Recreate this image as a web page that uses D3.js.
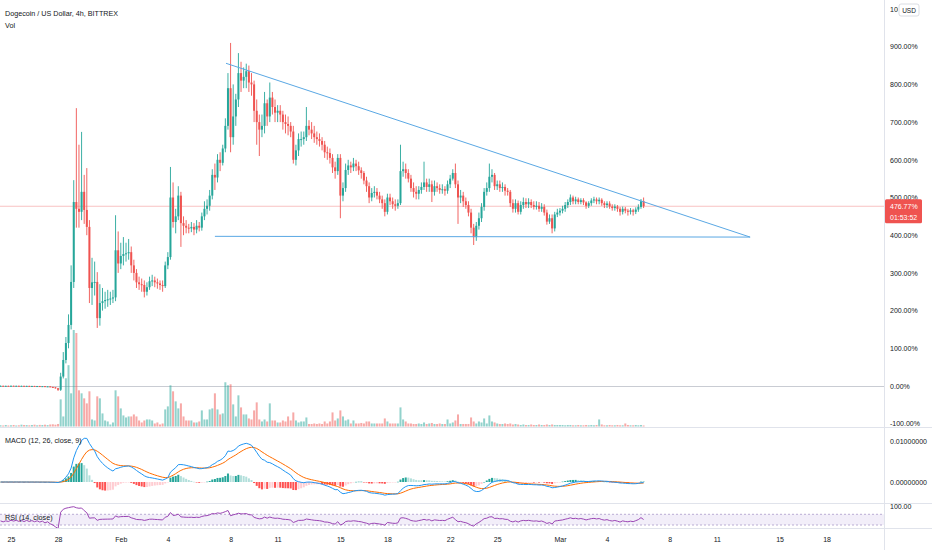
<!DOCTYPE html>
<html>
<head>
<meta charset="utf-8">
<script src="https://cdn.jsdelivr.net/npm/d3@7"></script>
<style>
  body { margin: 0; background: #ffffff; }
  svg text { font-family: "Liberation Sans", Arial, sans-serif; }
</style>
</head>
<body>
<div id="chart"></div>
<script>
// 4h candles, values in % change from the first bar (Jan 24 08:00 UTC)
var startTime = Date.UTC(2021, 0, 24, 8);
var barHours = 4;
var basePrice = 0.0085; // USD price at 0%

var closes = [
  0.5, 0, 0.4, 0.1,                  // Jan 24
  0.6, 0.2, 0.5, 0, 0.4, -0.2,       // Jan 25
  0.3, -0.3, 0.1, -0.5, -0.1, -0.8,  // Jan 26
  -0.4, -1.5, -1, -2.5, -3.5, -6,    // Jan 27
  -10, 25, 69, 114, 162, 276,        // Jan 28
  488, 470, 462, 515, 467, 422,      // Jan 29
  260, 275, 276, 180, 220, 225,      // Jan 30
  228, 230, 232, 235, 360, 325,      // Jan 31
  345, 350, 352, 355, 320, 300,      // Feb 1
  275, 270, 268, 250, 262, 278,      // Feb 2
  280, 275, 272, 268, 265, 320,      // Feb 3
  342, 500, 435, 450, 505, 432,      // Feb 4
  425, 420, 418, 422, 415, 425,      // Feb 5
  420, 450, 470, 478, 505, 560,      // Feb 6
  553, 600, 592, 630, 690, 790,      // Feb 7
  660, 715, 760, 830, 810, 820,      // Feb 8
  835, 805, 800, 730, 700, 680,      // Feb 9
  690, 750, 715, 765, 740, 725,      // Feb 10
  730, 720, 700, 695, 690, 675,      // Feb 11
  600, 625, 655, 655, 660, 690,      // Feb 12
  680, 670, 660, 655, 650, 640,      // Feb 13
  620, 618, 605, 580, 570, 605,      // Feb 14
  505, 525, 573, 585, 580, 590,      // Feb 15
  583, 572, 565, 545, 530, 500,      // Feb 16
  512, 515, 505, 495, 485, 462,      // Feb 17
  500, 490, 482, 478, 485, 570,      // Feb 18
  575, 565, 550, 525, 515, 510,      // Feb 19
  520, 528, 540, 528, 535, 515,      // Feb 20
  530, 525, 520, 522, 518, 535,      // Feb 21
  550, 565, 535, 500, 505, 490,      // Feb 22
  480, 460, 420, 395, 425, 445,      // Feb 23
  475, 515, 525, 555, 560, 530,      // Feb 24
  535, 525, 528, 518, 515, 485,      // Feb 25
  470, 485, 462, 480, 488, 482,      // Feb 26
  488, 480, 475, 478, 470, 475,      // Feb 27
  460, 436, 445, 418, 455, 460,      // Feb 28
  465, 470, 480, 488, 500, 490,      // Mar 1
  495, 488, 493, 487, 478, 485,      // Mar 2
  492, 495, 490, 494, 485, 480,      // Mar 3
  484, 476, 472, 476, 470, 462,      // Mar 4
  470, 465, 462, 466, 462, 468,      // Mar 5
  475, 490, 476.77                   // Mar 6
];

var highs = [
  1.2, 0.9, 0.8, 0.8,
  1, 0.9, 0.9, 0.8, 0.8, 0.6,
  0.6, 0.5, 0.4, 0.4, 0.2, 0.2,
  0, 0, -0.6, -0.6, -2, -3,
  -5, 35, 90, 130, 190, 320,
  546, 737, 640, 674, 560, 578,
  440, 340, 330, 302, 270, 260,
  250, 255, 250, 255, 453, 410,
  380, 395, 380, 390, 370, 335,
  310, 290, 285, 280, 275, 290,
  295, 290, 285, 280, 280, 330,
  355, 581, 540, 470, 530, 515,
  450, 440, 430, 435, 432, 440,
  435, 460, 490, 495, 520, 575,
  590, 615, 620, 640, 710, 830,
  910, 800, 775, 883, 860, 845,
  855, 850, 830, 810, 760, 720,
  720, 780, 760, 805, 780, 760,
  745, 745, 730, 720, 715, 700,
  690, 640, 670, 675, 675, 740,
  705, 700, 690, 675, 670, 660,
  650, 635, 630, 615, 595, 615,
  615, 540, 590, 600, 595, 605,
  600, 595, 580, 570, 555, 540,
  525, 530, 525, 515, 505, 495,
  510, 510, 500, 495, 495, 640,
  595, 590, 575, 560, 540, 530,
  530, 540, 595, 550, 550, 545,
  545, 540, 535, 535, 530, 545,
  560, 575, 590, 545, 520, 515,
  500, 490, 470, 430, 435, 460,
  485, 525, 540, 590, 575, 565,
  545, 545, 540, 535, 525, 520,
  495, 495, 492, 490, 500, 498,
  498, 495, 490, 490, 488, 485,
  482, 468, 455, 455, 462, 470,
  472, 478, 488, 495, 508, 505,
  502, 500, 498, 498, 490, 490,
  498, 502, 500, 500, 498, 490,
  490, 490, 482, 482, 480, 475,
  476, 475, 470, 472, 470, 474,
  482, 496, 500
];

var lows = [
  -0.4, -0.3, -0.4, -0.3,
  -0.2, -0.1, -0.1, -0.4, -0.3, -0.6,
  -0.5, -0.7, -0.6, -0.9, -0.8, -1.2,
  -1.2, -2, -2, -3, -4.5, -7,
  -13, -13, 20, 60, 100, 150,
  260, 420, 420, 440, 430, 400,
  220, 215, 240, 154, 160, 200,
  205, 210, 215, 220, 225, 300,
  310, 320, 330, 335, 300, 280,
  260, 255, 250, 235, 240, 255,
  265, 262, 258, 255, 250, 260,
  310, 335, 420, 405, 440, 369,
  400, 405, 405, 408, 400, 405,
  410, 412, 440, 455, 465, 495,
  520, 540, 570, 585, 620, 680,
  620, 640, 690, 740, 780, 790,
  790, 780, 770, 700, 640, 610,
  660, 670, 690, 700, 720, 700,
  700, 700, 680, 670, 665, 660,
  590, 585, 610, 635, 640, 650,
  665, 655, 645, 640, 635, 625,
  605, 600, 590, 565, 550, 560,
  445, 490, 515, 560, 565, 570,
  570, 560, 550, 535, 515, 485,
  490, 500, 495, 485, 470, 450,
  455, 480, 470, 465, 470, 480,
  555, 550, 540, 515, 500, 495,
  495, 510, 520, 515, 515, 488,
  505, 515, 510, 510, 505, 510,
  525, 545, 525, 430, 485, 475,
  470, 450, 405, 374, 385, 415,
  435, 465, 505, 515, 540, 520,
  520, 515, 515, 505, 505, 475,
  460, 460, 455, 455, 470, 472,
  472, 472, 468, 468, 462, 462,
  452, 428, 430, 405, 410, 448,
  452, 458, 462, 472, 480, 482,
  482, 482, 482, 480, 470, 472,
  478, 485, 482, 482, 478, 472,
  472, 470, 465, 465, 462, 452,
  455, 458, 452, 455, 452, 456,
  462, 470, 472
];

var volumes = [
  12, 10, 15, 10,
  12, 15, 10, 12, 18, 15,
  14, 12, 15, 18, 12, 16,
  15, 18, 14, 20, 22, 18,
  25, 270, 100, 480, 610, 330,
  960, 930, 360, 330, 280, 230,
  350, 70, 60, 300, 280, 130,
  60, 50, 20, 40, 360, 300,
  180, 110, 90, 100, 100, 120,
  100, 60, 40, 60, 70, 70,
  60, 30, 40, 20, 30, 170,
  200, 410, 350, 250, 180, 230,
  100, 60, 60, 60, 40, 40,
  50, 160, 70, 70, 170, 180,
  330, 170, 120, 130, 440, 410,
  420, 220, 100, 310, 190, 120,
  120, 80, 70, 160, 240, 70,
  50, 70, 50, 230, 60, 60,
  40, 40, 60, 50, 100, 60,
  140, 60, 40, 50, 50, 90,
  25, 25, 30, 25, 30, 25,
  50, 30, 50, 140, 60, 80,
  160, 100, 60, 70, 30, 60,
  30, 30, 35, 30, 50, 50,
  30, 30, 30, 30, 30, 80,
  50, 30, 30, 30, 30, 190,
  70, 50, 30, 30, 25, 25,
  30, 25, 40, 25, 30, 35,
  25, 25, 30, 25, 25, 70,
  30, 40, 60, 120, 25, 25,
  25, 25, 90, 50, 30, 50,
  40, 80, 30, 110, 50, 40,
  30, 25, 25, 30, 25, 30,
  20, 25, 20, 15, 20, 15,
  15, 20, 15, 15, 20, 15,
  15, 20, 15, 20, 15, 15,
  15, 15, 12, 15, 15, 12,
  12, 15, 12, 12, 15, 12,
  15, 12, 15, 70, 20, 12,
  12, 15, 12, 12, 15, 12,
  12, 30, 15, 12, 12, 15,
  12, 15, 10
];

// Axis ticks and labels
var priceTicks = [-100, 0, 100, 200, 300, 400, 500, 600, 700, 800, 900, 1000];
var macdTicks = [0, 0.01];
var rsiTicks = [100];
var timeTicks = [
  Date.UTC(2021, 0, 25), Date.UTC(2021, 0, 28), Date.UTC(2021, 1, 1), Date.UTC(2021, 1, 4),
  Date.UTC(2021, 1, 8), Date.UTC(2021, 1, 11), Date.UTC(2021, 1, 15), Date.UTC(2021, 1, 18),
  Date.UTC(2021, 1, 22), Date.UTC(2021, 1, 25), Date.UTC(2021, 2, 1), Date.UTC(2021, 2, 4),
  Date.UTC(2021, 2, 8), Date.UTC(2021, 2, 11), Date.UTC(2021, 2, 15), Date.UTC(2021, 2, 18)
];
var timeLabels = ["25", "28", "Feb", "4", "8", "11", "15", "18", "22", "25", "Mar", "4", "8", "11", "15", "18"];

// Drawn trend lines: [time, %]
var trendLine = [[Date.UTC(2021, 1, 7, 17), 856], [Date.UTC(2021, 2, 13, 3), 395]];
var supportLine = [[Date.UTC(2021, 1, 7, 0), 397], [Date.UTC(2021, 2, 13, 3), 395]];

var lastPriceText = "476.77%";
var countdownText = "01:53:52";

// ---- layout ----
var svgWidth = 932;
var svgHeight = 550;
var axisX = 884;
var mainBottom = 427;
var macdBottom = 503;
var rsiBottom = 528;

var teal = "#26a69a";
var red = "#ef5350";
var textColor = "#131722";

var svg = d3.select("#chart")
  .append("svg")
  .attr("width", svgWidth)
  .attr("height", svgHeight);

// Build bar records (open = previous close)
var bars = closes.map(function(c, i) {
  return {
    time: new Date(startTime + i * barHours * 3600 * 1000),
    open: i === 0 ? 0 : closes[i - 1],
    close: c,
    high: highs[i],
    low: lows[i],
    volume: volumes[i]
  };
});

// Indicators from closes
function ema(values, n) {
  var k = 2 / (n + 1), prev, out = [];
  values.forEach(function(v, i) {
    prev = i === 0 ? v : v * k + prev * (1 - k);
    out.push(prev);
  });
  return out;
}
var prices = closes.map(function(p) { return basePrice * (1 + p / 100); });
var ema12 = ema(prices, 12);
var ema26 = ema(prices, 26);
var macd = ema12.map(function(v, i) { return v - ema26[i]; });
var signal = ema(macd, 9);
var hist = macd.map(function(v, i) { return v - signal[i]; });

// RSI (Wilder), seeded with the average gain/loss of the first 14 changes
var changes = prices.slice(1).map(function(p, i) { return p - prices[i]; });
var avgGain = d3.mean(changes.slice(0, 14), function(c) { return Math.max(c, 0); });
var avgLoss = d3.mean(changes.slice(0, 14), function(c) { return Math.max(-c, 0); });
var rsi = [100 - 100 / (1 + avgGain / avgLoss)];
changes.forEach(function(ch) {
  avgGain = (avgGain * 13 + Math.max(ch, 0)) / 14;
  avgLoss = (avgLoss * 13 + Math.max(-ch, 0)) / 14;
  rsi.push(avgLoss === 0 ? 100 : 100 - 100 / (1 + avgGain / avgLoss));
});

// ---- scales ----
var x = d3.scaleUtc()
  .domain([new Date(Date.UTC(2021, 0, 25)), new Date(Date.UTC(2021, 2, 4))])
  .range([11, 607]);
var y = d3.scaleLinear().domain([-100, 1000]).range([423.7, 9]);
var yVol = d3.scaleLinear().domain([0, d3.max(volumes)]).range([426.5, 330]);
var yMacd = d3.scaleLinear().domain([0, 0.01]).range([482, 441]);
var yRsi = d3.scaleLinear().domain([30, 70]).range([525, 514.3]);

// clip paths per pane
var defs = svg.append("defs");
[["clipMain", 0, mainBottom], ["clipMacd", mainBottom, macdBottom], ["clipRsi", macdBottom, rsiBottom]].forEach(function(c) {
  defs.append("clipPath").attr("id", c[0])
    .append("rect").attr("x", 0).attr("y", c[1]).attr("width", axisX).attr("height", c[2] - c[1]);
});
// local coords of a price tick (origin at the axis line, tick's y)
defs.append("clipPath").attr("id", "clipTopLabel")
  .append("rect").attr("x", 0).attr("y", -10).attr("width", 14).attr("height", 20);

// pane separators and right border
[mainBottom, macdBottom, rsiBottom].forEach(function(yy) {
  svg.append("line").attr("x1", 0).attr("x2", svgWidth).attr("y1", yy + 0.5).attr("y2", yy + 0.5)
    .attr("stroke", "#e0e3eb");
});
svg.append("line").attr("x1", axisX + 0.5).attr("x2", axisX + 0.5).attr("y1", 0).attr("y2", svgHeight)
  .attr("stroke", "#e0e3eb");

// ---- main pane ----
var main = svg.append("g").attr("clip-path", "url(#clipMain)");

// 0% base line
main.append("line")
  .attr("x1", 0).attr("x2", axisX).attr("y1", Math.round(y(0)) + 0.5).attr("y2", Math.round(y(0)) + 0.5)
  .attr("stroke", "#c9ccd3");

// last price line
main.append("line")
  .attr("x1", 0).attr("x2", axisX).attr("y1", y(closes[closes.length - 1])).attr("y2", y(closes[closes.length - 1]))
  .attr("stroke", red).attr("stroke-opacity", 0.35);

// volume
main.selectAll(".vol")
  .data(bars)
  .enter()
  .append("rect")
  .attr("class", "vol")
  .attr("x", function(d) { return x(d.time) - 1; })
  .attr("width", 2)
  .attr("y", function(d) { return yVol(d.volume); })
  .attr("height", function(d) { return yVol(0) - yVol(d.volume); })
  .attr("fill", function(d) { return d.close >= d.open ? teal : red; })
  .attr("fill-opacity", 0.5);

// candles
var candles = main.selectAll(".candle")
  .data(bars)
  .enter()
  .append("g")
  .attr("class", "candle");

candles.append("line")
  .attr("x1", function(d) { return x(d.time); })
  .attr("x2", function(d) { return x(d.time); })
  .attr("y1", function(d) { return y(d.high); })
  .attr("y2", function(d) { return y(d.low); })
  .attr("stroke", function(d) { return d.close >= d.open ? teal : red; })
  .attr("stroke-width", 0.9);

candles.append("rect")
  .attr("x", function(d) { return x(d.time) - 1; })
  .attr("width", 2)
  .attr("y", function(d) { return y(Math.max(d.open, d.close)); })
  .attr("height", function(d) { return Math.max(1, Math.abs(y(d.open) - y(d.close))); })
  .attr("fill", function(d) { return d.close >= d.open ? teal : red; });

// trend lines
[trendLine, supportLine].forEach(function(l) {
  main.append("line")
    .attr("x1", x(l[0][0])).attr("y1", y(l[0][1]))
    .attr("x2", x(l[1][0])).attr("y2", y(l[1][1]))
    .attr("stroke", "#5aa8e4")
    .attr("stroke-width", 1);
});

// ---- MACD pane ----
var macdG = svg.append("g").attr("clip-path", "url(#clipMacd)");

macdG.selectAll(".hist")
  .data(hist)
  .enter()
  .append("rect")
  .attr("class", "hist")
  .attr("x", function(d, i) { return x(bars[i].time) - 1; })
  .attr("width", 2)
  .attr("y", function(d) { return Math.min(yMacd(d), yMacd(0)); })
  .attr("height", function(d) { return Math.max(0.5, Math.abs(yMacd(d) - yMacd(0))); })
  .attr("fill", function(d, i) {
    var prev = i > 0 ? hist[i - 1] : d;
    if (d >= 0) return d > prev ? "#26a69a" : "#b2dfdb";
    return d < prev ? "#ff5252" : "#ffcdd2";
  });

var macdLine = d3.line()
  .x(function(d, i) { return x(bars[i].time); })
  .y(function(d) { return yMacd(d); });

macdG.append("path").datum(signal).attr("d", macdLine)
  .attr("fill", "none").attr("stroke", "#ff6d00").attr("stroke-width", 1);
macdG.append("path").datum(macd).attr("d", macdLine)
  .attr("fill", "none").attr("stroke", "#2196f3").attr("stroke-width", 1);

// ---- RSI pane ----
var rsiG = svg.append("g").attr("clip-path", "url(#clipRsi)");

rsiG.append("rect")
  .attr("x", 0).attr("width", axisX)
  .attr("y", yRsi(70)).attr("height", yRsi(30) - yRsi(70))
  .attr("fill", "#7e57c2").attr("fill-opacity", 0.1);

[70, 30].forEach(function(v) {
  rsiG.append("line")
    .attr("x1", 0).attr("x2", axisX).attr("y1", yRsi(v)).attr("y2", yRsi(v))
    .attr("stroke", "#a99bc9").attr("stroke-dasharray", "2,2").attr("stroke-width", 0.8);
});

rsiG.append("path")
  .datum(rsi)
  .attr("d", d3.line()
    .x(function(d, i) { return x(bars[i].time); })
    .y(function(d) { return yRsi(d); }))
  .attr("fill", "none")
  .attr("stroke", "#9b45b4")
  .attr("stroke-width", 1);

// ---- axes ----
function styleAxis(g) {
  g.select(".domain").remove();
  g.selectAll("text")
    .attr("font-size", 7)
    .attr("font-family", "'Liberation Sans', Arial, sans-serif")
    .attr("fill", textColor);
}

var priceAxis = svg.append("g")
  .attr("transform", "translate(" + axisX + ",0)")
  .call(d3.axisRight(y).tickValues(priceTicks).tickSize(0).tickPadding(6)
    .tickFormat(function(d) { return d.toFixed(2) + "%"; }))
  .call(styleAxis);

// the top label sits under the currency button
priceAxis.selectAll(".tick")
  .filter(function(d) { return d === 1000; })
  .attr("clip-path", "url(#clipTopLabel)");

svg.append("g")
  .attr("transform", "translate(" + axisX + ",0)")
  .call(d3.axisRight(yMacd).tickValues(macdTicks).tickSize(0).tickPadding(6)
    .tickFormat(d3.format(".8f")))
  .call(styleAxis);

svg.append("g")
  .attr("transform", "translate(" + axisX + ",0)")
  .call(d3.axisRight(yRsi).tickValues(rsiTicks).tickSize(0).tickPadding(6)
    .tickFormat(d3.format(".2f")))
  .call(styleAxis);

svg.append("g")
  .attr("transform", "translate(0," + rsiBottom + ")")
  .call(d3.axisBottom(x).tickValues(timeTicks.map(function(t) { return new Date(t); }))
    .tickSize(0).tickPadding(9)
    .tickFormat(function(d, i) { return timeLabels[i]; }))
  .call(styleAxis);

// last price tag
var lastY = y(closes[closes.length - 1]);
svg.append("rect")
  .attr("x", axisX + 1).attr("y", lastY - 7).attr("width", 37).attr("height", 24)
  .attr("rx", 1.5)
  .attr("fill", red);
svg.append("text")
  .attr("x", axisX + 6).attr("y", lastY + 3)
  .attr("font-size", 7).attr("fill", "#ffffff")
  .text(lastPriceText);
svg.append("text")
  .attr("x", axisX + 6).attr("y", lastY + 13.5)
  .attr("font-size", 7).attr("fill", "#ffffff")
  .text(countdownText);

// currency box
svg.append("rect")
  .attr("x", 899).attr("y", 4).attr("width", 20).attr("height", 12)
  .attr("rx", 2)
  .attr("fill", "#ffffff").attr("stroke", "#d1d4dc").attr("stroke-width", 0.8);
svg.append("text")
  .attr("x", 909).attr("y", 12.6)
  .attr("text-anchor", "middle")
  .attr("font-size", 6.5).attr("fill", textColor)
  .text("USD");

// pane titles
svg.append("text").attr("x", 5).attr("y", 15.5).attr("font-size", 7.2).attr("fill", textColor)
  .text("Dogecoin / US Dollar, 4h, BITTREX");
svg.append("text").attr("x", 5).attr("y", 28).attr("font-size", 7.2).attr("fill", textColor)
  .text("Vol");
svg.append("text").attr("x", 5).attr("y", 443).attr("font-size", 7.2).attr("fill", textColor)
  .text("MACD (12, 26, close, 9)");
svg.append("text").attr("x", 5).attr("y", 519.5).attr("font-size", 7.2).attr("fill", textColor)
  .text("RSI (14, close)");
</script>
</body>
</html>
